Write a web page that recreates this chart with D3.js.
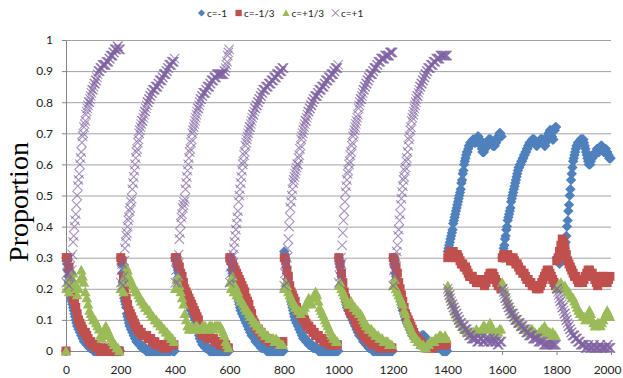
<!DOCTYPE html>
<html><head><meta charset="utf-8">
<script src="https://cdn.jsdelivr.net/npm/d3@7"></script>
<style>body{margin:0;background:#fff}svg{display:block}</style>
</head><body>
<svg id="chart" width="623" height="378"></svg>
<script>
// ---------- data ----------
const seriesNames = ["c=-1", "c=-1/3", "c=+1/3", "c=+1"];
const seriesColors = ["#4F81BD", "#C0504D", "#9BBB59", "#8064A2"];
const xTicks = [0, 200, 400, 600, 800, 1000, 1200, 1400, 1600, 1800, 2000];
const yTicks = [0, 0.1, 0.2, 0.3, 0.4, 0.5, 0.6, 0.7, 0.8, 0.9, 1];
const runLength = 200;                 // 10 runs of 200 steps
const sampleSteps = [2.5, 5, 5, 2.5];  // sampling interval of each series
const originValues = [0, 0, 0, null];  // values at step 0

// c=-1 (10 runs x 80 samples)
const cMinus1 = [
0.30,0.28,0.26,0.24,0.22,0.20,0.19,0.17,0.16,0.15, 0.14,0.13,0.12,0.11,0.10,0.09,0.08,0.08,0.07,0.07, 0.06,0.06,0.05,0.05,0.04,0.04,0.03,0.03,0.03,0.03, 0.02,0.02,0.02,0.02,0.01,0.01,0.01,0.01,0.01,0.01,
0,0,0,0,0,0,0,0,0,0, 0,0,0,0,0,0,0.01,0,0,0, 0,0,0,0,0,0,0,0,0,0, 0,0,0,0,0,0,0,0,0,0,
0.30,0.28,0.25,0.22,0.19,0.17,0.16,0.15,0.14,0.12, 0.11,0.10,0.09,0.08,0.08,0.07,0.07,0.06,0.06,0.05, 0.05,0.04,0.04,0.03,0.03,0.03,0.03,0.02,0.02,0.02, 0.02,0.01,0.01,0.01,0.01,0.01,0.01,0,0,0,
0,0,0,0,0,0,0,0,0,0, 0,0,0,0,0,0,0,0,0,0, 0,0,0,0,0,0,0,0,0,0, 0,0,0,0,0.01,0.01,0,0,0,0,
0.30,0.29,0.28,0.27,0.26,0.25,0.24,0.23,0.22,0.21, 0.21,0.20,0.19,0.18,0.18,0.17,0.17,0.16,0.16,0.15, 0.15,0.14,0.14,0.13,0.13,0.12,0.12,0.11,0.11,0.10, 0.10,0.09,0.08,0.07,0.06,0.05,0.04,0.04,0.03,0.03,
0.02,0.02,0.02,0.02,0.01,0.01,0.01,0.01,0.01,0.01, 0,0,0,0,0,0,0,0,0,0, 0,0,0,0,0,0,0,0,0,0, 0,0,0,0,0,0,0,0,0,0,
0.30,0.29,0.28,0.26,0.25,0.24,0.23,0.22,0.21,0.20, 0.19,0.18,0.17,0.16,0.15,0.14,0.13,0.13,0.12,0.12, 0.11,0.11,0.10,0.10,0.09,0.09,0.08,0.08,0.07,0.07, 0.06,0.06,0.05,0.05,0.05,0.05,0.04,0.04,0.03,0.03,
0.03,0.03,0.02,0.02,0.02,0.02,0.01,0.01,0.01,0.01, 0.01,0.01,0.01,0.01,0,0,0,0,0,0, 0,0,0,0,0,0,0,0,0,0, 0,0,0,0,0,0,0,0,0,0,
0.32,0.31,0.29,0.27,0.25,0.23,0.22,0.20,0.19,0.17, 0.16,0.15,0.14,0.13,0.12,0.11,0.10,0.10,0.09,0.09, 0.08,0.08,0.07,0.07,0.06,0.06,0.05,0.05,0.04,0.04, 0.04,0.04,0.03,0.03,0.03,0.03,0.02,0.02,0.02,0.02,
0.02,0.02,0.01,0.01,0.01,0.01,0.01,0.01,0.01,0.01, 0,0,0,0,0,0,0,0,0,0, 0,0,0,0,0,0,0,0,0,0, 0,0,0,0,0,0,0,0,0,0,
0.30,0.28,0.27,0.25,0.24,0.22,0.20,0.19,0.18,0.17, 0.16,0.15,0.14,0.14,0.13,0.13,0.12,0.12,0.11,0.11, 0.10,0.10,0.09,0.09,0.08,0.08,0.07,0.07,0.06,0.06, 0.05,0.05,0.05,0.05,0.04,0.04,0.03,0.03,0.03,0.03,
0.02,0.02,0.02,0.02,0.01,0.01,0.01,0.01,0.01,0.01, 0,0,0,0,0,0,0,0,0,0, 0,0,0,0,0,0,0,0,0,0, 0,0,0,0,0,0,0,0,0,0,
0.30,0.28,0.27,0.25,0.24,0.23,0.22,0.20,0.19,0.18, 0.17,0.16,0.15,0.14,0.13,0.13,0.12,0.11,0.10,0.10, 0.09,0.09,0.08,0.08,0.07,0.07,0.06,0.06,0.05,0.05, 0.05,0.05,0.04,0.04,0.04,0.04,0.04,0.04,0.04,0.04,
0.04,0.04,0.05,0.05,0.05,0.05,0.04,0.04,0.04,0.04, 0.03,0.03,0.03,0.03,0.02,0.02,0.02,0.02,0.02,0.02, 0.01,0.01,0.01,0.01,0.01,0.01,0.01,0.01,0.01,0.01, 0.01,0.01,0,0,0,0,0,0,0,0,
0.32,0.33,0.34,0.35,0.36,0.37,0.38,0.39,0.41,0.42, 0.43,0.44,0.45,0.46,0.47,0.48,0.49,0.50,0.51,0.52, 0.54,0.55,0.57,0.58,0.60,0.61,0.62,0.63,0.64,0.64, 0.65,0.66,0.66,0.67,0.67,0.67,0.67,0.68,0.68,0.67,
0.67,0.67,0.68,0.68,0.69,0.69,0.68,0.68,0.67,0.66, 0.65,0.64,0.64,0.64,0.65,0.65,0.66,0.66,0.67,0.67, 0.68,0.68,0.68,0.68,0.67,0.67,0.66,0.66,0.66,0.66, 0.67,0.67,0.68,0.68,0.69,0.69,0.70,0.70,0.69,0.69,
0.30,0.31,0.33,0.34,0.36,0.37,0.39,0.40,0.42,0.43, 0.44,0.45,0.46,0.48,0.49,0.50,0.51,0.52,0.53,0.54, 0.55,0.56,0.57,0.58,0.59,0.59,0.60,0.60,0.61,0.61, 0.62,0.62,0.63,0.63,0.64,0.64,0.65,0.65,0.66,0.66,
0.67,0.67,0.67,0.67,0.68,0.68,0.68,0.68,0.67,0.67, 0.66,0.66,0.67,0.67,0.67,0.67,0.68,0.68,0.68,0.68, 0.67,0.67,0.66,0.66,0.67,0.68,0.69,0.69,0.70,0.70, 0.71,0.71,0.70,0.69,0.68,0.68,0.71,0.71,0.72,0.72,
0.30,0.29,0.29,0.30,0.28,0.29,0.30,0.29,0.29,0.30, 0.31,0.32,0.33,0.35,0.37,0.40,0.42,0.45,0.47,0.50, 0.52,0.55,0.57,0.59,0.61,0.62,0.63,0.64,0.65,0.66, 0.66,0.67,0.67,0.67,0.67,0.68,0.68,0.68,0.68,0.68,
0.67,0.66,0.65,0.64,0.63,0.62,0.61,0.60,0.60,0.60, 0.61,0.62,0.62,0.63,0.63,0.63,0.63,0.64,0.64,0.65, 0.65,0.64,0.64,0.65,0.65,0.66,0.66,0.65,0.65,0.64, 0.64,0.65,0.65,0.64,0.64,0.63,0.63,0.62,0.62,0.62
];
// c=-1/3 (10 runs x 40 samples)
const cMinusThird = [
0.30,0.30,0.27,0.24,0.19,0.17,0.16,0.14,0.12,0.10,0.09,0.08,0.07,0.06,0.06,0.05,0.04,0.03,0.03,0.02,0.02,0.02,0.01,0.01,0.01,0,0,0,0.01,0,0,0,0,0,0.01,0,0,0,0,0,
0.30,0.29,0.24,0.20,0.17,0.15,0.13,0.12,0.11,0.10,0.09,0.08,0.07,0.07,0.06,0.06,0.05,0.05,0.05,0.05,0.04,0.04,0.04,0.03,0.03,0.03,0.02,0.02,0.02,0.02,0.02,0.01,0.01,0.01,0.01,0.02,0.02,0.03,0.02,0.02,
0.30,0.30,0.28,0.27,0.25,0.24,0.22,0.20,0.19,0.18,0.17,0.16,0.15,0.14,0.13,0.12,0.11,0.10,0.08,0.06,0.05,0.05,0.05,0.05,0.04,0.05,0.04,0.04,0.04,0.03,0.03,0.03,0.03,0.02,0.02,0.02,0.02,0.02,0.01,0.01,
0.30,0.29,0.28,0.27,0.26,0.25,0.24,0.23,0.22,0.21,0.20,0.19,0.17,0.16,0.15,0.13,0.12,0.10,0.09,0.08,0.07,0.07,0.06,0.06,0.05,0.05,0.04,0.04,0.04,0.03,0.03,0.03,0.03,0.03,0.03,0.03,0.03,0.02,0.03,0.03,
0.30,0.29,0.26,0.24,0.21,0.19,0.18,0.17,0.16,0.14,0.13,0.12,0.12,0.11,0.10,0.10,0.09,0.08,0.08,0.07,0.07,0.06,0.06,0.05,0.05,0.05,0.04,0.04,0.04,0.03,0.03,0.03,0.03,0.02,0.02,0.02,0.02,0.02,0.02,0.02,
0.30,0.28,0.25,0.22,0.19,0.17,0.16,0.14,0.13,0.12,0.12,0.11,0.10,0.09,0.08,0.07,0.07,0.06,0.05,0.05,0.04,0.04,0.03,0.03,0.03,0.02,0.02,0.02,0.02,0.02,0.01,0.01,0.01,0.01,0.01,0.01,0.01,0.01,0.01,0.01,
0.30,0.29,0.27,0.25,0.22,0.20,0.18,0.16,0.14,0.12,0.11,0.10,0.09,0.08,0.07,0.06,0.05,0.04,0.04,0.03,0.03,0.02,0.02,0.02,0.01,0.01,0.01,0.01,0.01,0.01,0.02,0.02,0.02,0.02,0.03,0.03,0.02,0.02,0.03,0.02,
0.30,0.31,0.32,0.31,0.32,0.31,0.30,0.31,0.30,0.29,0.28,0.28,0.27,0.27,0.26,0.25,0.24,0.24,0.24,0.23,0.23,0.22,0.22,0.22,0.23,0.22,0.22,0.21,0.22,0.23,0.24,0.25,0.25,0.25,0.24,0.23,0.22,0.21,0.21,0.20,
0.30,0.31,0.30,0.30,0.31,0.30,0.29,0.29,0.30,0.29,0.28,0.28,0.27,0.26,0.26,0.25,0.25,0.24,0.23,0.23,0.22,0.22,0.21,0.21,0.21,0.20,0.21,0.20,0.21,0.22,0.23,0.24,0.25,0.26,0.26,0.25,0.24,0.23,0.22,0.21,
0.29,0.30,0.32,0.34,0.36,0.35,0.33,0.31,0.29,0.28,0.27,0.26,0.25,0.24,0.24,0.23,0.22,0.22,0.23,0.22,0.23,0.24,0.25,0.26,0.26,0.25,0.25,0.24,0.23,0.22,0.21,0.22,0.23,0.24,0.24,0.23,0.22,0.22,0.23,0.24
];
// c=+1/3 (10 runs x 40 samples)
const cPlusThird = [
0.20,0.22,0.19,0.24,0.21,0.25,0.22,0.20,0.18,0.20,0.23,0.26,0.24,0.22,0.19,0.17,0.15,0.13,0.12,0.11,0.10,0.10,0.09,0.08,0.07,0.05,0.04,0.05,0.07,0.08,0.07,0.06,0.05,0.04,0.03,0.02,0.02,0.01,0.01,0,
0.20,0.22,0.19,0.24,0.27,0.26,0.24,0.23,0.22,0.21,0.20,0.19,0.19,0.18,0.17,0.16,0.16,0.15,0.14,0.14,0.13,0.13,0.12,0.11,0.11,0.10,0.10,0.09,0.09,0.08,0.08,0.07,0.07,0.06,0.06,0.05,0.05,0.04,0.04,0.03,
0.20,0.23,0.24,0.21,0.19,0.17,0.15,0.12,0.10,0.08,0.07,0.07,0.08,0.07,0.07,0.08,0.08,0.07,0.07,0.07,0.08,0.08,0.08,0.07,0.07,0.08,0.08,0.08,0.07,0.08,0.08,0.08,0.08,0.08,0.07,0.06,0.05,0.03,0.02,0.01,
0.22,0.20,0.24,0.19,0.21,0.18,0.19,0.17,0.16,0.16,0.15,0.14,0.13,0.13,0.12,0.11,0.11,0.10,0.09,0.09,0.08,0.08,0.07,0.07,0.06,0.06,0.05,0.05,0.05,0.04,0.04,0.04,0.04,0.03,0.04,0.03,0.03,0.02,0.02,0.02,
0.20,0.22,0.21,0.19,0.18,0.17,0.16,0.15,0.14,0.14,0.13,0.13,0.12,0.13,0.13,0.14,0.15,0.16,0.17,0.16,0.15,0.17,0.18,0.19,0.18,0.16,0.14,0.13,0.12,0.11,0.10,0.09,0.08,0.07,0.06,0.05,0.04,0.04,0.03,0.03,
0.21,0.22,0.20,0.19,0.18,0.17,0.16,0.15,0.15,0.16,0.15,0.14,0.14,0.13,0.13,0.12,0.12,0.11,0.10,0.09,0.08,0.08,0.07,0.07,0.07,0.06,0.06,0.05,0.05,0.05,0.04,0.04,0.04,0.03,0.03,0.03,0.03,0.02,0.02,0.02,
0.21,0.23,0.20,0.19,0.18,0.17,0.16,0.15,0.13,0.12,0.10,0.09,0.08,0.07,0.06,0.05,0.04,0.04,0.03,0.03,0.02,0.02,0.02,0.01,0.01,0.02,0.02,0.03,0.03,0.03,0.03,0.04,0.04,0.04,0.05,0.05,0.04,0.04,0.05,0.04,
0.21,0.19,0.17,0.16,0.15,0.13,0.12,0.11,0.10,0.09,0.09,0.08,0.07,0.07,0.06,0.06,0.06,0.06,0.05,0.06,0.06,0.07,0.06,0.06,0.06,0.07,0.08,0.08,0.07,0.07,0.08,0.09,0.08,0.07,0.06,0.05,0.06,0.06,0.07,0.07,
0.22,0.20,0.19,0.17,0.16,0.15,0.14,0.13,0.12,0.11,0.10,0.10,0.09,0.09,0.08,0.08,0.07,0.07,0.07,0.06,0.06,0.07,0.07,0.06,0.06,0.05,0.05,0.06,0.06,0.07,0.07,0.08,0.07,0.06,0.06,0.06,0.05,0.06,0.05,0.05,
0.20,0.21,0.20,0.22,0.21,0.20,0.21,0.20,0.19,0.19,0.18,0.17,0.17,0.16,0.15,0.14,0.13,0.12,0.12,0.11,0.11,0.10,0.11,0.12,0.13,0.12,0.10,0.09,0.08,0.08,0.09,0.09,0.08,0.09,0.10,0.11,0.12,0.13,0.12,0.11
];
// c=+1 (10 runs x 80 samples)
const cPlus1 = [
0.22,0.25,0.28,0.24,0.21,0.27,0.30,0.24,0.26,0.31, 0.35,0.37,0.40,0.42,0.44,0.47,0.50,0.53,0.55,0.57, 0.60,0.62,0.64,0.67,0.69,0.70,0.72,0.73,0.74,0.76, 0.77,0.78,0.79,0.80,0.80,0.81,0.82,0.83,0.84,0.84,
0.85,0.86,0.86,0.87,0.87,0.88,0.89,0.90,0.90,0.90, 0.91,0.91,0.91,0.92,0.92,0.92,0.92,0.92,0.92,0.93, 0.93,0.93,0.93,0.94,0.94,0.95,0.95,0.95,0.95,0.96, 0.96,0.97,0.97,0.97,0.97,0.98,0.98,0.97,0.97,0.97,
0.22,0.26,0.28,0.21,0.24,0.29,0.33,0.35,0.37,0.38, 0.40,0.42,0.43,0.45,0.46,0.48,0.49,0.52,0.54,0.56, 0.58,0.60,0.62,0.64,0.65,0.67,0.68,0.70,0.71,0.72, 0.73,0.74,0.74,0.75,0.76,0.77,0.77,0.78,0.79,0.80,
0.80,0.81,0.81,0.82,0.82,0.83,0.83,0.84,0.84,0.84, 0.84,0.85,0.85,0.85,0.85,0.86,0.86,0.87,0.87,0.87, 0.87,0.88,0.88,0.89,0.89,0.89,0.89,0.90,0.90,0.91, 0.91,0.92,0.92,0.92,0.92,0.93,0.93,0.93,0.93,0.94,
0.22,0.26,0.29,0.22,0.25,0.31,0.36,0.38,0.41,0.43, 0.44,0.46,0.47,0.48,0.49,0.52,0.54,0.56,0.58,0.60, 0.62,0.64,0.65,0.67,0.68,0.70,0.71,0.72,0.73,0.74, 0.75,0.76,0.77,0.78,0.78,0.79,0.80,0.81,0.81,0.82,
0.82,0.83,0.83,0.83,0.83,0.84,0.84,0.85,0.85,0.85, 0.85,0.86,0.86,0.87,0.87,0.87,0.87,0.88,0.88,0.88, 0.88,0.89,0.89,0.89,0.89,0.89,0.89,0.89,0.89,0.89, 0.89,0.89,0.90,0.90,0.91,0.92,0.93,0.95,0.96,0.97,
0.22,0.27,0.25,0.30,0.28,0.31,0.33,0.35,0.37,0.39, 0.41,0.43,0.45,0.48,0.50,0.52,0.54,0.56,0.58,0.60, 0.61,0.63,0.64,0.66,0.67,0.68,0.69,0.70,0.71,0.72, 0.72,0.73,0.74,0.75,0.76,0.76,0.77,0.78,0.78,0.79,
0.79,0.80,0.80,0.81,0.81,0.82,0.82,0.83,0.83,0.84, 0.84,0.84,0.84,0.85,0.85,0.85,0.85,0.86,0.86,0.86, 0.86,0.87,0.87,0.87,0.87,0.88,0.88,0.88,0.88,0.89, 0.89,0.89,0.89,0.90,0.90,0.90,0.90,0.91,0.91,0.91,
0.21,0.25,0.28,0.22,0.30,0.33,0.36,0.40,0.43,0.46, 0.48,0.50,0.52,0.54,0.55,0.56,0.57,0.58,0.59,0.60, 0.60,0.62,0.63,0.65,0.66,0.68,0.69,0.70,0.71,0.72, 0.73,0.74,0.74,0.75,0.76,0.77,0.77,0.78,0.78,0.79,
0.79,0.80,0.80,0.81,0.81,0.82,0.82,0.82,0.82,0.83, 0.83,0.84,0.84,0.84,0.84,0.85,0.85,0.85,0.85,0.86, 0.86,0.87,0.87,0.87,0.87,0.88,0.88,0.88,0.88,0.89, 0.89,0.89,0.89,0.90,0.90,0.91,0.91,0.91,0.91,0.92,
0.22,0.27,0.24,0.30,0.28,0.34,0.38,0.42,0.45,0.48, 0.51,0.53,0.55,0.57,0.58,0.60,0.61,0.63,0.64,0.66, 0.67,0.69,0.70,0.71,0.72,0.73,0.74,0.75,0.76,0.78, 0.79,0.80,0.81,0.81,0.82,0.83,0.84,0.84,0.85,0.85,
0.86,0.86,0.87,0.87,0.88,0.88,0.89,0.89,0.89,0.89, 0.90,0.90,0.91,0.91,0.91,0.91,0.92,0.92,0.93,0.93, 0.93,0.93,0.94,0.94,0.94,0.94,0.94,0.94,0.95,0.95, 0.95,0.95,0.95,0.95,0.95,0.96,0.96,0.96,0.96,0.96,
0.21,0.26,0.24,0.28,0.30,0.32,0.34,0.37,0.39,0.42, 0.44,0.47,0.49,0.51,0.53,0.55,0.56,0.58,0.59,0.61, 0.62,0.64,0.66,0.68,0.69,0.71,0.72,0.74,0.75,0.76, 0.77,0.78,0.79,0.80,0.81,0.82,0.82,0.83,0.84,0.85,
0.85,0.86,0.86,0.87,0.87,0.88,0.88,0.89,0.89,0.90, 0.90,0.91,0.91,0.91,0.91,0.92,0.92,0.92,0.92,0.93, 0.93,0.93,0.93,0.94,0.94,0.94,0.94,0.94,0.94,0.95, 0.95,0.95,0.95,0.95,0.95,0.95,0.95,0.95,0.95,0.95,
0.20,0.19,0.18,0.18,0.17,0.16,0.15,0.15,0.14,0.14, 0.13,0.13,0.12,0.12,0.11,0.11,0.10,0.10,0.09,0.09, 0.09,0.08,0.08,0.08,0.08,0.07,0.07,0.07,0.07,0.06, 0.06,0.05,0.05,0.05,0.05,0.04,0.04,0.04,0.04,0.04,
0.04,0.04,0.04,0.03,0.03,0.03,0.03,0.04,0.04,0.04, 0.04,0.03,0.03,0.03,0.03,0.04,0.04,0.04,0.04,0.03, 0.03,0.04,0.04,0.03,0.03,0.03,0.03,0.04,0.04,0.03, 0.03,0.03,0.03,0.02,0.02,0.02,0.03,0.03,0.03,0.03,
0.20,0.20,0.19,0.18,0.17,0.17,0.16,0.15,0.15,0.14, 0.14,0.13,0.13,0.12,0.12,0.12,0.12,0.11,0.11,0.10, 0.10,0.10,0.10,0.09,0.09,0.09,0.09,0.08,0.08,0.08, 0.08,0.07,0.07,0.07,0.07,0.06,0.06,0.06,0.06,0.05,
0.05,0.05,0.05,0.05,0.05,0.04,0.04,0.04,0.04,0.04, 0.04,0.04,0.04,0.03,0.03,0.03,0.03,0.03,0.03,0.03, 0.03,0.02,0.02,0.02,0.02,0.02,0.02,0.02,0.02,0.02, 0.02,0.02,0.02,0.02,0.02,0.02,0.02,0.02,0.02,0.02,
0.20,0.20,0.19,0.18,0.17,0.16,0.16,0.15,0.14,0.14, 0.13,0.12,0.12,0.11,0.10,0.10,0.09,0.08,0.08,0.07, 0.07,0.06,0.06,0.05,0.05,0.05,0.05,0.04,0.04,0.04, 0.04,0.03,0.03,0.03,0.03,0.02,0.02,0.02,0.02,0.02,
0.02,0.02,0.01,0.01,0.01,0.01,0.02,0.02,0.01,0.01, 0.01,0.01,0.01,0.01,0.02,0.02,0.01,0.01,0.01,0.01, 0.01,0.01,0.01,0.02,0.02,0.01,0.01,0.01,0.01,0.01, 0.01,0.01,0.01,0.01,0.02,0.02,0.01,0.01,0.01,0.01
];
const seriesValues = [cMinus1, cMinusThird, cPlusThird, cPlus1];

// ---------- chart ----------
const x = d3.scaleLinear().domain([0, 2000]).range([66, 611]);
const y = d3.scaleLinear().domain([0, 1]).range([351, 40]);
const svg = d3.select("#chart");
const FONT = "Lato, 'Open Sans', 'Liberation Sans', sans-serif";

// gridlines
svg.append("g").attr("transform", "translate(66,0)")
  .call(d3.axisLeft(y).tickValues(yTicks).tickSize(-(611 - 66)).tickFormat(""))
  .call(g => g.select(".domain").remove())
  .call(g => g.selectAll("line").attr("stroke", "#a2a2a2").attr("stroke-width", 1));

// y axis
const fmtY = d => d === 0 ? "0" : d === 1 ? "1" : d3.format(".1f")(d);
svg.append("g").attr("transform", "translate(66,0)")
  .call(d3.axisLeft(y).tickValues(yTicks).tickSize(4).tickSizeOuter(0).tickPadding(9).tickFormat(fmtY))
  .call(g => g.select(".domain").attr("stroke", "#868686"))
  .call(g => g.selectAll("line").attr("stroke", "#868686"))
  .call(g => g.selectAll("text").attr("font-family", FONT).attr("font-size", 12).attr("fill", "#222"));

// x axis
svg.append("g").attr("transform", "translate(0,351)")
  .call(d3.axisBottom(x).tickValues(xTicks).tickSize(4).tickSizeOuter(0).tickPadding(10).tickFormat(d => String(d)))
  .call(g => g.select(".domain").attr("stroke", "#868686"))
  .call(g => g.selectAll("line").attr("stroke", "#868686"))
  .call(g => g.selectAll("text").attr("font-family", FONT).attr("font-size", 12).attr("fill", "#222")
    .filter(d => d === 2000).attr("text-anchor", "end").attr("x", 10));

// y title
svg.append("text")
  .attr("transform", "translate(28,202) rotate(-90)")
  .attr("text-anchor", "middle")
  .attr("font-family", "'Liberation Serif', 'Times New Roman', serif")
  .attr("font-size", 28).attr("fill", "#000")
  .text("Proportion");

// marker shapes
function markerPath(i, s) {
  if (i === 0) return `M0,${-s}L${s},0L0,${s}L${-s},0Z`;
  if (i === 1) { const h = s * 0.88; return `M${-h},${-h}H${h}V${h}H${-h}Z`; }
  if (i === 2) return `M0,${-s}L${s},${s * 0.8}L${-s},${s * 0.8}Z`;
  return `M${-s},${-s}L${s},${s}M${s},${-s}L${-s},${s}`;
}
function styleMarker(sel, i) {
  if (i === 3) sel.attr("fill", "none").attr("stroke", seriesColors[i]).attr("stroke-width", 1.1).attr("stroke-opacity", 0.7);
  else sel.attr("fill", seriesColors[i]).attr("stroke", "none");
}

// points
seriesValues.forEach((vals, i) => {
  const step = sampleSteps[i];
  const perRun = runLength / step;
  const pts = [];
  if (originValues[i] !== null) pts.push({ t: 0, v: originValues[i] });
  vals.forEach((v, j) => {
    const run = Math.floor(j / perRun), k = j % perRun;
    pts.push({ t: run * runLength + 1 + k * step, v });
  });
  const sz = [5.2, 5.1, 5.3, 4.7][i];
  svg.append("g").selectAll("path").data(pts).join("path")
    .attr("transform", d => `translate(${x(d.t)},${y(d.v)})`)
    .attr("d", markerPath(i, sz))
    .call(sel => styleMarker(sel, i));
});

// legend
const leg = svg.append("g").attr("transform", "translate(0,13)");
let lx = 198;
seriesNames.forEach((name, i) => {
  const m = leg.append("path").attr("transform", `translate(${lx + 3.5},0)`)
    .attr("d", markerPath(i, 3.6));
  styleMarker(m, i);
  if (i === 3) m.attr("stroke-width", 1).attr("stroke-opacity", 1);
  const t = leg.append("text").attr("x", lx + 9).attr("y", 0).attr("dy", "0.35em")
    .attr("font-family", FONT).attr("font-size", 10).attr("fill", "#222").text(name);
  lx += 9 + t.node().getComputedTextLength() + 8;
});
</script>
</body></html>
